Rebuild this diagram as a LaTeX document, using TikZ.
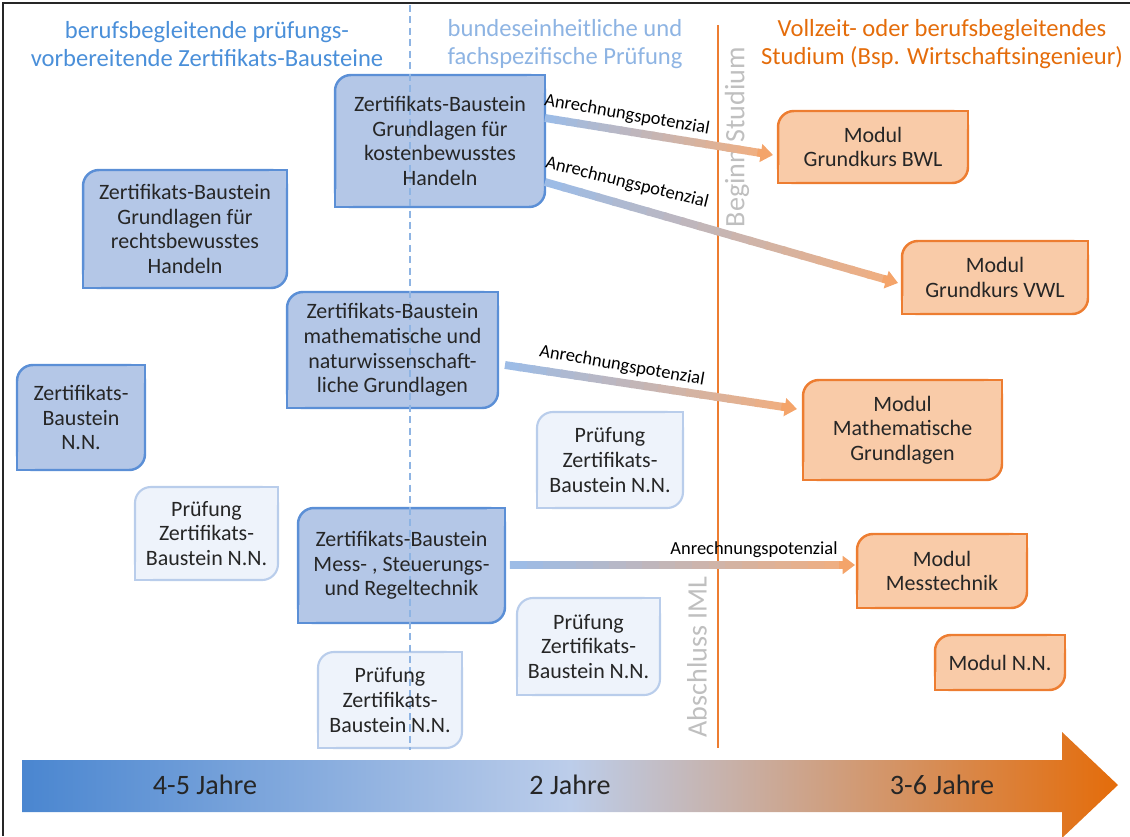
\documentclass[tikz,border=0pt]{standalone}
\usepackage{fontspec}
\setmainfont{Carlito}
\usepackage{tikz}
\usetikzlibrary{positioning,calc,arrows.meta,backgrounds}

\definecolor{bausteinblau}{HTML}{B4C7E7}
\definecolor{bausteinrand}{HTML}{5B8FD6}
\definecolor{pruefhell}{HTML}{EEF3FB}
\definecolor{pruefrand}{HTML}{B9CDEB}
\definecolor{modulfill}{HTML}{F9CBA8}
\definecolor{modulrand}{HTML}{ED7D31}
\definecolor{kopfblau}{HTML}{4A8FD9}
\definecolor{kopfhell}{HTML}{8EB4E3}
\definecolor{kopforange}{HTML}{E46C0A}
\definecolor{pfeilblau}{HTML}{9DBCE6}
\definecolor{pfeilorange}{HTML}{F2AE7E}
\definecolor{pfeilspitze}{HTML}{F4A46A}
\definecolor{grau}{HTML}{BFBFBF}
\definecolor{balkenlinks}{HTML}{4A86D0}
\definecolor{balkenmitte}{HTML}{BCCDEA}
\definecolor{balkenrechts}{HTML}{E46C0A}

\tikzset{
  box/.style = { align = center, outer sep = 0pt, inner sep = 2pt,
                 font = \fontsize{12.5}{14}\selectfont, text = black!85 },
  anr/.style = { font = \fontsize{10.5}{12}\selectfont, inner sep = 0pt },
  kopf/.style = { align = center, font = \fontsize{14}{16}\selectfont },
  senkrecht/.style = { rotate = 90, text = grau, font = \fontsize{16}{18}\selectfont },
  jahre/.style = { font = \fontsize{16}{18}\selectfont, text = black!85 }
}

% box behind a node: round top left and bottom right, square top right and bottom left
\newcommand{\kasten}[4]{%
  \begin{scope}[on background layer]
    \draw[fill = #2, draw = #3, line width = #4, rounded corners = 9pt]
      (#1.south west) rectangle (#1.north east);
    \fill[#2] (#1.north east) rectangle ++(-10pt,-10pt);
    \fill[#2] (#1.south west) rectangle ++(10pt,10pt);
    \draw[#3, line width = #4] ([xshift=-11pt]#1.north east) -- (#1.north east) -- ([yshift=-11pt]#1.north east);
    \draw[#3, line width = #4] ([yshift=11pt]#1.south west) -- (#1.south west) -- ([xshift=11pt]#1.south west);
  \end{scope}
}

% blue to orange arrow
\newcommand{\anrechnung}[2]{%
  \foreach \k in {0,...,19} {
    \pgfmathtruncatemacro{\mix}{100-5*\k}
    \draw[line width = 4.5pt, pfeilblau!\mix!pfeilorange]
      ($(#1)!\k/20!($(#2)!8pt!(#1)$)$) -- ($(#1)!\k/20+0.06!($(#2)!8pt!(#1)$)$);
  }
  \draw[line width = 4.5pt, pfeilspitze, -{Triangle[length=7pt, width=10pt]}]
    ($(#2)!9pt!(#1)$) -- (#2);
}

\begin{document}
\begin{tikzpicture}[x = 0.02cm, y = -0.02cm]
  \useasboundingbox (0,0) rectangle (1130,836);
  \draw[line width = 1.2pt, black!85] (3,836) -- (3,3) -- (1130,3);

  \shade[left color = balkenlinks, right color = balkenrechts, middle color = balkenmitte]
    (22,760) -- (1062,760) -- (1062,732) -- (1118,785) -- (1062,838) -- (1062,812) -- (22,812) -- cycle;
  \node[jahre] (j1) at (205,785) {4-5 Jahre};
  \node[jahre] (j2) at (570,785) {2 Jahre};
  \node[jahre] (j3) at (942,785) {3-6 Jahre};

  \node[kopf, text = kopfblau] (h1) at (207,44) {berufsbegleitende prüfungs-\\vorbereitende Zertifikats-Bausteine};
  \node[kopf, text = kopfhell] (h2) at (565,44) {bundeseinheitliche und\\fachspezifische Prüfung};
  \node[kopf, text = kopforange] (h3) at (942,44) {Vollzeit- oder berufsbegleitendes\\Studium (Bsp. Wirtschaftsingenieur)};

  \coordinate (oben) at (718,25);
  \coordinate (unten) at (718,748);
  \draw[line width = 1.2pt, modulrand] (oben) -- (unten);
  \node[senkrecht] (beginn) at (737,137) {Beginn Studium};
  \node[senkrecht] (abschluss) at (697,657) {Abschluss IML};

  \node[box, minimum width = 4.2cm, minimum height = 2.64cm] (kosten) at (440,141)
    {Zertifikats-Baustein\\Grundlagen für\\kostenbewusstes\\Handeln};
  \node[box, minimum width = 4.08cm, minimum height = 2.36cm] (rechts) at (185,229)
    {Zertifikats-Baustein\\Grundlagen für\\rechtsbewusstes\\Handeln};
  \node[box, minimum width = 4.22cm, minimum height = 2.32cm] (mathe) at (392.5,350)
    {Zertifikats-Baustein\\mathematische und\\naturwissenschaft-\\liche Grundlagen};
  \node[box, minimum width = 2.56cm, minimum height = 2.1cm] (nn) at (81,417.5)
    {Zertifikats-\\Baustein\\N.N.};
  \node[box, minimum width = 4.14cm, minimum height = 2.3cm] (mess) at (401.5,565.5)
    {Zertifikats-Baustein\\Mess- , Steuerungs-\\und Regeltechnik};
  \foreach \b in {kosten, rechts, mathe, nn, mess}
    \kasten{\b}{bausteinblau}{bausteinrand}{1.4pt};

  \node[box, minimum width = 2.86cm, minimum height = 1.86cm] (pr1) at (206.5,533.5)
    {Prüfung\\Zertifikats-\\Baustein N.N.};
  \node[box, minimum width = 2.92cm, minimum height = 1.92cm] (pr2) at (610,460)
    {Prüfung\\Zertifikats-\\Baustein N.N.};
  \node[box, minimum width = 2.86cm, minimum height = 1.94cm] (pr3) at (588.5,646.5)
    {Prüfung\\Zertifikats-\\Baustein N.N.};
  \node[box, minimum width = 2.88cm, minimum height = 1.92cm] (pr4) at (390,700)
    {Prüfung\\Zertifikats-\\Baustein N.N.};
  \foreach \b in {pr1, pr2, pr3, pr4}
    \kasten{\b}{pruefhell}{pruefrand}{1.2pt};

  \node[box, minimum width = 3.8cm, minimum height = 1.44cm] (bwl) at (873,147)
    {Modul\\Grundkurs BWL};
  \node[box, minimum width = 3.72cm, minimum height = 1.46cm] (vwl) at (995,277.5)
    {Modul\\Grundkurs VWL};
  \node[box, minimum width = 3.98cm, minimum height = 2cm] (mathmod) at (902.5,430)
    {Modul\\Mathematische\\Grundlagen};
  \node[box, minimum width = 3.4cm, minimum height = 1.48cm] (messmod) at (942,571)
    {Modul\\Messtechnik};
  \node[box, minimum width = 2.6cm, minimum height = 1.1cm] (nnmod) at (1000,662.5)
    {Modul N.N.};
  \foreach \b in {bwl, vwl, mathmod, messmod, nnmod}
    \kasten{\b}{modulfill}{modulrand}{1.4pt};

  \coordinate (grenze oben) at (410,5);
  \coordinate (grenze unten) at (410,750);
  \begin{scope}[on background layer]
    \draw[kopfhell, line width = 0.8pt, dash pattern = on 4pt off 2.5pt] (grenze oben) -- (grenze unten);
  \end{scope}

  \coordinate (a1s) at ($(kosten.east)+(0,-23)$);
  \coordinate (a1e) at ($(bwl.west)+(-5,8)$);
  \coordinate (a2s) at ($(kosten.east)+(0,41)$);
  \coordinate (a2e) at ($(vwl.west)+(-4,5.5)$);
  \coordinate (a3s) at ($(mathe.east)+(7,15)$);
  \coordinate (a3e) at ($(mathmod.west)+(-6,-21)$);
  \coordinate (a4s) at ($(mess.east)+(5,-0.5)$);
  \coordinate (a4e) at ($(messmod.west)+(-2,-6)$);
  \anrechnung{a1s}{a1e}
  \anrechnung{a2s}{a2e}
  \anrechnung{a3s}{a3e}
  \anrechnung{a4s}{a4e}

  \node[anr, rotate = -10] (l1) at (627,115) {Anrechnungspotenzial};
  \node[anr, rotate = -14] (l2) at (627,183) {Anrechnungspotenzial};
  \node[anr, rotate = -10] (l3) at (622,366) {Anrechnungspotenzial};
  \node[anr] (l4) at (754,550) {Anrechnungspotenzial};
\end{tikzpicture}
\end{document}
